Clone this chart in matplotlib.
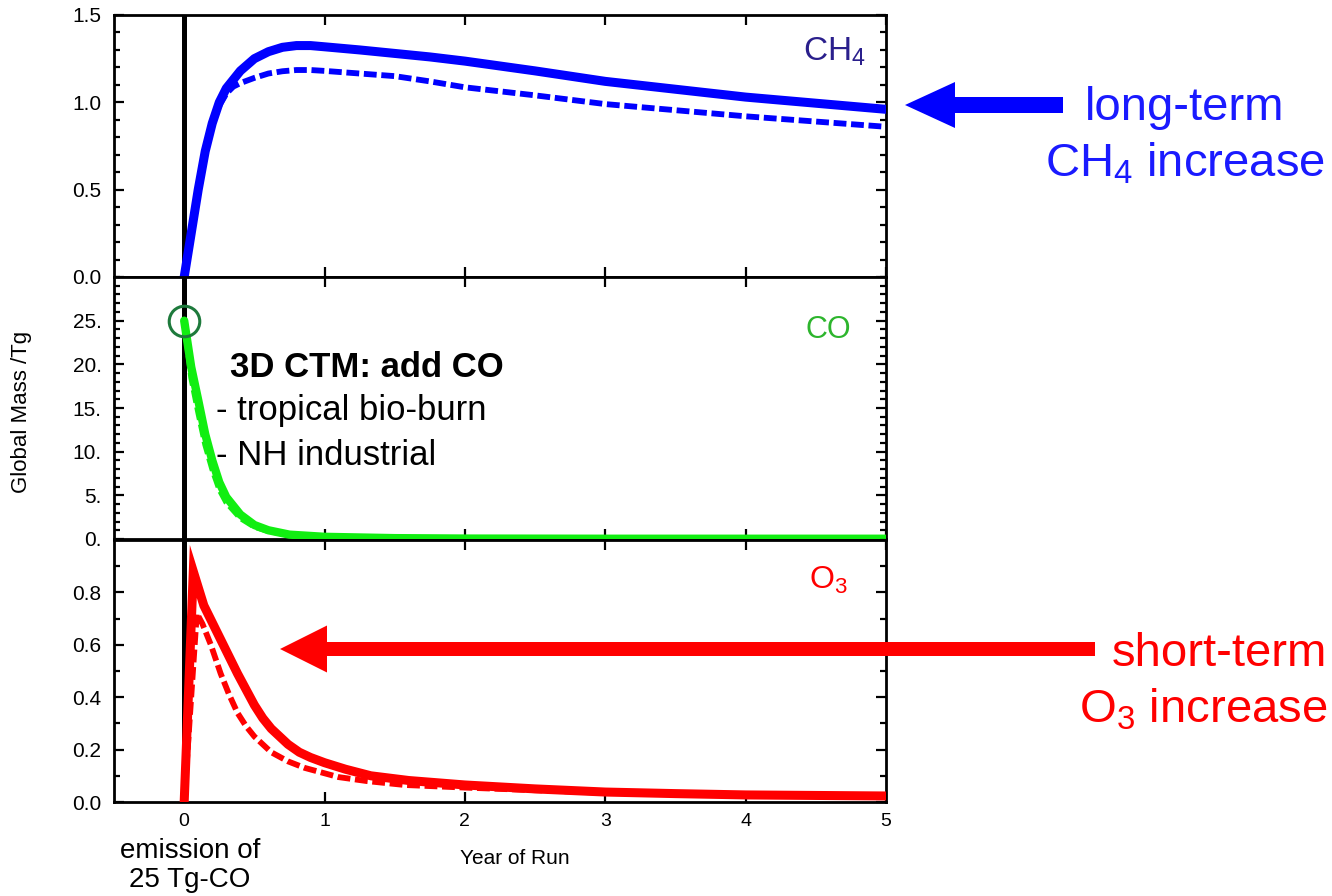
import matplotlib
matplotlib.use("Agg")
import matplotlib.pyplot as plt
from matplotlib.patches import FancyArrow
from matplotlib.transforms import IdentityTransform
from matplotlib.ticker import MultipleLocator, FixedLocator, FuncFormatter

plt.rcParams['font.family'] = ['Liberation Sans', 'DejaVu Sans']
plt.rcParams['mathtext.fontset'] = 'custom'
plt.rcParams['mathtext.rm'] = 'Liberation Sans'
plt.rcParams['mathtext.it'] = 'Liberation Sans:italic'

# years since the CO pulse
ch4_t = [0, 0.05, 0.1, 0.15, 0.2, 0.25, 0.3, 0.35, 0.4, 0.5, 0.6, 0.7, 0.8, 0.9,
         1.0, 1.25, 1.5, 1.75, 2.0, 2.5, 3.0, 3.5, 4.0, 4.5, 5.0]
ch4_a = [0, 0.25, 0.50, 0.72, 0.88, 1.0, 1.08, 1.13, 1.18, 1.25, 1.29, 1.315, 1.325, 1.325,
         1.318, 1.30, 1.28, 1.26, 1.236, 1.18, 1.12, 1.075, 1.03, 0.995, 0.96]
ch4_b = [0, 0.25, 0.50, 0.72, 0.88, 0.98, 1.05, 1.09, 1.11, 1.14, 1.165, 1.178, 1.185, 1.185,
         1.18, 1.165, 1.15, 1.12, 1.086, 1.04, 0.99, 0.955, 0.92, 0.89, 0.86]

co_t = [0, 0.05, 0.1, 0.15, 0.2, 0.25, 0.3, 0.4, 0.5, 0.6, 0.75, 1.0, 1.5, 2.0, 3.0, 4.0, 5.0]
co_a = [25, 19.7, 15.9, 12.0, 9.0, 6.5, 4.8, 2.8, 1.6, 1.0, 0.5, 0.25, 0.1, 0.05, 0.03, 0.03, 0.03]
co_b = [25, 18.5, 14.5, 10.8, 8.0, 5.7, 4.2, 2.4, 1.4, 0.9, 0.45, 0.2, 0.08, 0.05, 0.03, 0.03, 0.03]

o3_t_a = [0, 0.065, 0.14, 0.2, 0.26, 0.32, 0.38, 0.44, 0.5, 0.56, 0.62, 0.68, 0.74, 0.82,
          0.9, 1.0, 1.15, 1.33, 1.6, 2.0, 2.5, 3.0, 3.5, 4.0, 4.5, 5.0]
o3_a = [0, 0.88, 0.75, 0.685, 0.62, 0.555, 0.49, 0.43, 0.37, 0.32, 0.28, 0.25, 0.22, 0.19,
        0.17, 0.15, 0.125, 0.10, 0.082, 0.065, 0.05, 0.038, 0.032, 0.027, 0.025, 0.023]
o3_t_b = [0, 0.09, 0.13, 0.19, 0.26, 0.32, 0.38, 0.44, 0.5, 0.62, 0.74, 0.86, 1.1, 1.3,
          1.57, 2.0, 2.5, 3.0, 4.0, 5.0]
o3_b = [0, 0.72, 0.68, 0.60, 0.49, 0.41, 0.34, 0.29, 0.25, 0.19, 0.155, 0.13, 0.095, 0.08,
        0.065, 0.055, 0.045, 0.035, 0.025, 0.02]

co_pulse = 25
year_ticks = [0, 1, 2, 3, 4, 5]

W, H = 1332, 896
fig = plt.figure(figsize=(W / 100, H / 100), dpi=100)

def px(x, y):
    return x / W, 1 - y / H

left, width, height = 114 / W, 772 / W, 262 / H
ax_ch4 = fig.add_axes([left, 1 - 277 / H, width, height])
ax_co = fig.add_axes([left, 1 - 539 / H, width, height])
ax_o3 = fig.add_axes([left, 1 - 802 / H, width, height])

dash = (0, (2.2, 0.8))
blue, green, red = '#0000ff', '#11ee11', '#ff0000'

ax_ch4.plot(ch4_t, ch4_b, color=blue, lw=4.2, ls=dash, zorder=3)
ax_ch4.plot(ch4_t, ch4_a, color=blue, lw=6.5, solid_capstyle='round', zorder=4)
ax_co.plot(co_t, co_b, color=green, lw=4.2, ls=dash, zorder=3)
ax_co.plot(co_t, co_a, color=green, lw=6.0, solid_capstyle='round', zorder=4)
ax_co.plot([0], [co_pulse], 'o', ms=22, mfc='none', mec='#1e7a3c', mew=2.2, zorder=5)
ax_o3.plot(o3_t_b, o3_b, color=red, lw=4.2, ls=dash, zorder=3)
ax_o3.plot(o3_t_a, o3_a, color=red, lw=6.5, solid_capstyle='round', solid_joinstyle='miter', zorder=4)

for ax in (ax_ch4, ax_co, ax_o3):
    ax.set_xlim(-0.5, 5)
    ax.axvline(0, color='black', lw=3.6, zorder=2)
    for s in ax.spines.values():
        s.set_linewidth(2)
    ax.xaxis.set_major_locator(FixedLocator(year_ticks))
    ax.tick_params(which='both', direction='in', top=True, right=True, width=1.6)
    ax.tick_params(which='major', length=7, labelsize=15, pad=9)
    ax.tick_params(which='minor', length=4.5)
    ax.tick_params(axis='x', labelbottom=False)

ax_ch4.set_ylim(0, 1.5)
ax_ch4.yaxis.set_major_locator(FixedLocator([0, 0.5, 1.0, 1.5]))
ax_ch4.yaxis.set_minor_locator(MultipleLocator(0.1))
ax_ch4.yaxis.set_major_formatter(FuncFormatter(lambda v, p: f"{v:.1f}"))

ax_co.set_ylim(0, 30)
ax_co.yaxis.set_major_locator(FixedLocator([0, 5, 10, 15, 20, 25]))
ax_co.yaxis.set_minor_locator(MultipleLocator(1))
ax_co.yaxis.set_major_formatter(FuncFormatter(lambda v, p: f"{int(v)}."))

ax_o3.set_ylim(0, 1.0)
ax_o3.yaxis.set_major_locator(FixedLocator([0, 0.2, 0.4, 0.6, 0.8]))
ax_o3.yaxis.set_minor_locator(MultipleLocator(0.1))
ax_o3.yaxis.set_major_formatter(FuncFormatter(lambda v, p: f"{v:.1f}"))
ax_o3.tick_params(axis='x', labelbottom=True, labelsize=14, pad=8)

# species names inside each panel
fig.text(*px(866, 52), r'CH$_4$', color='#2a1f8c', fontsize=24, ha='right', va='center')
fig.text(*px(851, 330), 'CO', color='#2db52d', fontsize=22, ha='right', va='center')
fig.text(*px(848, 580), r'O$_3$', color=red, fontsize=23, ha='right', va='center')

fig.text(*px(230, 367), '3D CTM: add CO', fontsize=25, fontweight='bold', va='center')
fig.text(*px(216, 410), '- tropical bio-burn', fontsize=25, va='center')
fig.text(*px(216, 455), '- NH industrial', fontsize=25, va='center')

fig.text(*px(22, 412), 'Global Mass /Tg', fontsize=16, rotation=90, ha='center', va='center')
fig.text(*px(515, 858), 'Year of Run', fontsize=15, ha='center', va='center')
fig.text(*px(190, 865), 'emission of\n25 Tg-CO', fontsize=20, ha='center', va='center',
         linespacing=1.15)

fig.text(*px(1185, 136), 'long-term\nCH$_4$ increase', color='#1a1aff', fontsize=34,
         ha='center', va='center', multialignment='center', linespacing=1.3)
fig.text(*px(1327, 682), 'short-term\nO$_3$ increase', color=red, fontsize=34,
         ha='right', va='center', multialignment='right', linespacing=1.3)

# arrows in output pixels
fig.add_artist(FancyArrow(1063, H - 105, -158, 0, width=16, head_width=46, head_length=50,
                          length_includes_head=True, color=blue, lw=0,
                          transform=IdentityTransform()))
fig.add_artist(FancyArrow(1095, H - 649, -815, 0, width=14, head_width=47, head_length=47,
                          length_includes_head=True, color=red, lw=0,
                          transform=IdentityTransform()))

fig.savefig('out.png', dpi=100)
